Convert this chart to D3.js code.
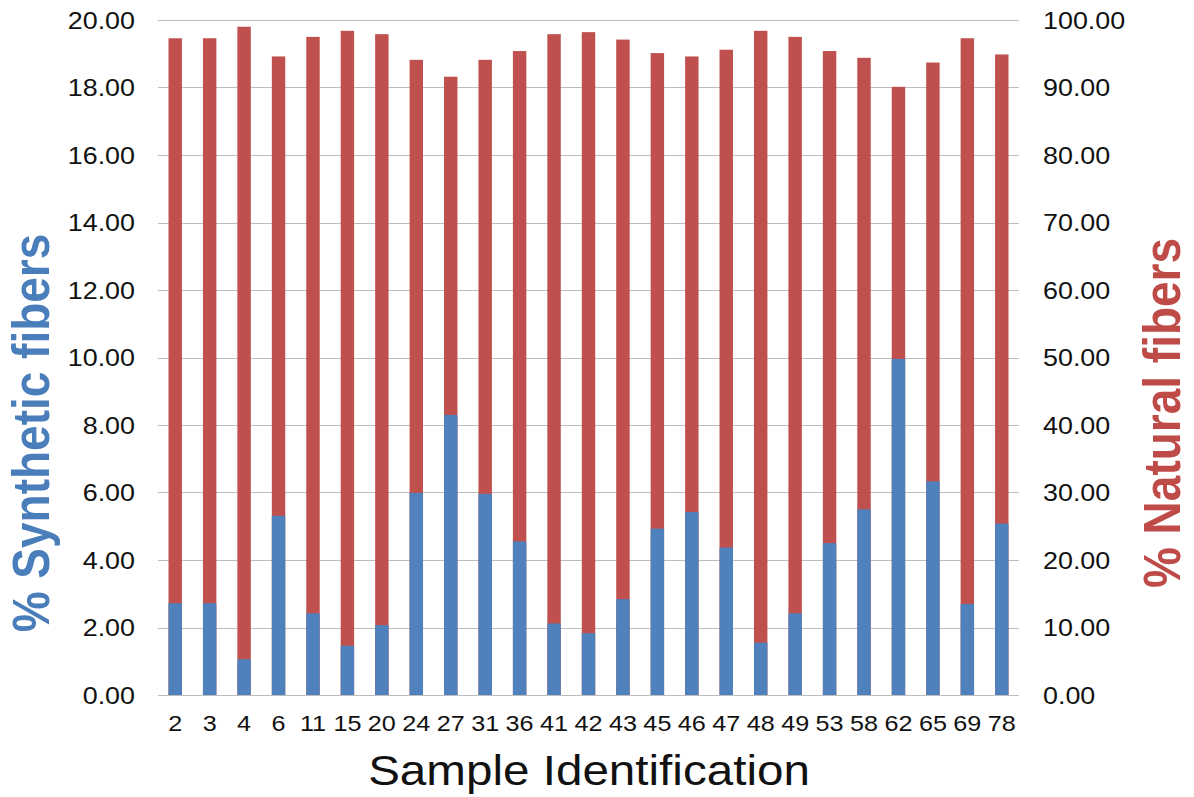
<!DOCTYPE html>
<html>
<head>
<meta charset="utf-8">
<script src="https://cdn.jsdelivr.net/npm/d3@7"></script>
<style>
  html, body { margin: 0; padding: 0; background: #ffffff; }
  svg { display: block; font-family: "Liberation Sans", Arial, sans-serif; }
</style>
</head>
<body>
<svg id="chart" width="1194" height="797"></svg>
<script>
const samples = ["2","3","4","6","11","15","20","24","27","31","36","41","42","43","45","46","47","48","49","53","58","62","65","69","78"];
const syntheticPct = [2.72,2.72,1.06,5.31,2.42,1.46,2.07,5.99,8.30,5.96,4.55,2.12,1.83,2.84,4.93,5.42,4.37,1.55,2.42,4.50,5.50,9.96,6.33,2.70,5.08];
const naturalPct = [97.29,97.30,99.00,94.60,97.50,98.40,97.90,94.10,91.60,94.10,95.40,97.90,98.20,97.10,95.10,94.60,95.60,98.40,97.50,95.40,94.40,90.10,93.70,97.30,94.90];
const leftTicks = [0,2,4,6,8,10,12,14,16,18,20];
const rightTicks = [0,10,20,30,40,50,60,70,80,90,100];

const svg = d3.select("#chart");
const plot = { left: 158, right: 1019, top: 20, bottom: 695 };
const SX = 1.12; // horizontal stretch of the original picture

const x = d3.scaleBand().domain(samples).range([plot.left, plot.right]).paddingInner(0.61).paddingOuter(0.305);
const yL = d3.scaleLinear().domain([0, 20]).range([plot.bottom, plot.top]);
const yR = d3.scaleLinear().domain([0, 100]).range([plot.bottom, plot.top]);

// gridlines
svg.append("g").selectAll("line").data(leftTicks).join("line")
  .attr("x1", plot.left).attr("x2", plot.right)
  .attr("y1", d => Math.round(yL(d)) + 0.5).attr("y2", d => Math.round(yL(d)) + 0.5)
  .attr("stroke", "#bdbdbd").attr("stroke-width", 1.2);

// natural bars (secondary axis)
svg.append("g").selectAll("rect").data(samples).join("rect")
  .attr("x", d => x(d)).attr("width", x.bandwidth())
  .attr("y", (d, i) => yR(naturalPct[i]))
  .attr("height", (d, i) => yR(0) - yR(naturalPct[i]))
  .attr("fill", "#c0504d");

// synthetic bars (primary axis)
svg.append("g").selectAll("rect").data(samples).join("rect")
  .attr("x", d => x(d)).attr("width", x.bandwidth())
  .attr("y", (d, i) => yL(syntheticPct[i]))
  .attr("height", (d, i) => yL(0) - yL(syntheticPct[i]))
  .attr("fill", "#4f81bd");

const fmt = d3.format(".2f");

// left tick labels
svg.append("g").selectAll("text").data(leftTicks).join("text")
  .attr("transform", d => `translate(135,${yL(d)}) scale(${SX},1)`)
  .attr("dy", "0.36em")
  .attr("text-anchor", "end")
  .attr("font-size", 24).attr("fill", "#111")
  .text(d => fmt(d));

// right tick labels
svg.append("g").selectAll("text").data(rightTicks).join("text")
  .attr("transform", d => `translate(1043,${yR(d)}) scale(${SX},1)`)
  .attr("dy", "0.36em")
  .attr("text-anchor", "start")
  .attr("font-size", 24).attr("fill", "#111")
  .text(d => fmt(d));

// x tick labels
svg.append("g").selectAll("text").data(samples).join("text")
  .attr("transform", d => `translate(${x(d) + x.bandwidth() / 2},731) scale(${SX},1)`)
  .attr("text-anchor", "middle")
  .attr("font-size", 22.5).attr("fill", "#111")
  .text(d => d);

// x axis title
svg.append("text")
  .attr("transform", `translate(589,785) scale(${SX},1)`)
  .attr("text-anchor", "middle")
  .attr("font-size", 42.5).attr("fill", "#111")
  .text("Sample Identification");

// left axis title
svg.append("text")
  .attr("transform", `translate(49,433) scale(${SX},1) rotate(-90)`)
  .attr("text-anchor", "middle")
  .attr("font-size", 46).attr("font-weight", "bold").attr("fill", "#4a7ebb")
  .text("% Synthetic fibers");

// right axis title
svg.append("text")
  .attr("transform", `translate(1180,413) scale(${SX},1) rotate(-90)`)
  .attr("text-anchor", "middle")
  .attr("font-size", 46).attr("font-weight", "bold").attr("fill", "#be4b48")
  .text("% Natural fibers");
</script>
</body>
</html>
